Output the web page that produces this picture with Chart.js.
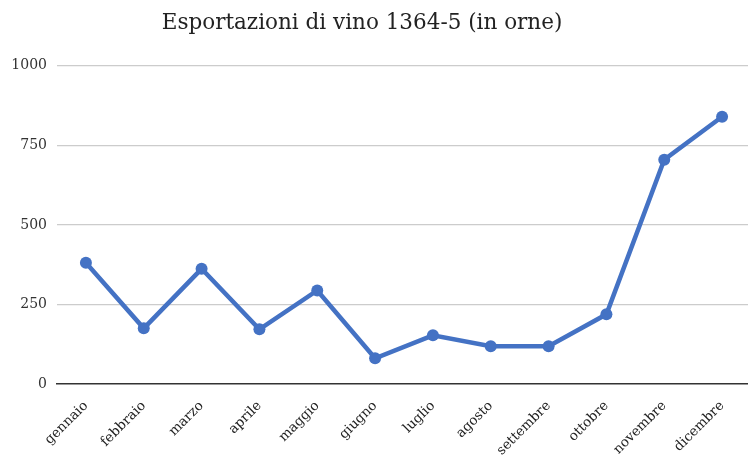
<!DOCTYPE html>
<html><head><meta charset="utf-8">
<script src="https://cdn.jsdelivr.net/npm/chart.js@4/dist/chart.umd.min.js"></script>
<style>
html,body{margin:0;padding:0;background:#fff;overflow:hidden;width:748px;height:458px;}
#wrap{position:absolute;left:-33px;top:0;width:790px;height:458px;}
</style></head>
<body>
<div id="wrap"><canvas id="c" width="790" height="458"></canvas></div>
<script>
const months = ["gennaio","febbraio","marzo","aprile","maggio","giugno","luglio","agosto","settembre","ottobre","novembre","dicembre"];
const exportsOrne = [381, 175, 362, 172, 294, 81, 153, 119, 119, 219, 705, 840];
const yTicks = [0, 250, 500, 750, 1000];
const titleText = "Esportazioni di vino 1364-5 (in orne)";

const serif = "'DejaVu Serif', 'Liberation Serif', serif";
new Chart(document.getElementById('c'), {
  type: 'line',
  data: {
    labels: months,
    datasets: [{
      label: 'Esportazioni',
      data: exportsOrne,
      borderColor: '#4472C4',
      backgroundColor: '#4472C4',
      borderWidth: 4.5,
      pointRadius: 6,
      pointBackgroundColor: '#4472C4',
      pointBorderWidth: 0,
      tension: 0,
      clip: false
    }]
  },
  options: {
    responsive: false,
    animation: false,
    devicePixelRatio: 1,
    layout: { padding: 0 },
    plugins: {
      legend: { display: false },
      tooltip: { enabled: false },
      title: {
        display: true,
        text: titleText,
        color: '#222',
        font: { family: serif, size: 21.5, weight: 'normal' },
        padding: { top: 11, bottom: 29 }
      }
    },
    scales: {
      x: {
        offset: true,
        grid: { display: false, drawTicks: false },
        border: { display: true, color: '#333', width: 1.5 },
        ticks: {
          autoSkip: false, minRotation: 45, maxRotation: 45,
          color: '#222', padding: 14,
          font: { family: serif, size: 13.5 }
        },
        afterFit(scale) { scale.height = 74; }
      },
      y: {
        min: 0, max: 1000,
        afterBuildTicks(scale) { scale.ticks = yTicks.map(v => ({ value: v })); },
        grid: {
          drawTicks: false,
          color: ctx => (ctx.tick && ctx.tick.value === 0) ? 'rgba(0,0,0,0)' : '#cccccc',
          lineWidth: 1.2
        },
        border: { display: false },
        ticks: {
          color: '#333', padding: 10,
          font: { family: serif, size: 14 },
          callback: v => String(v)
        },
        afterFit(scale) { scale.width = 90; }
      }
    }
  }
});
</script>
</body></html>
